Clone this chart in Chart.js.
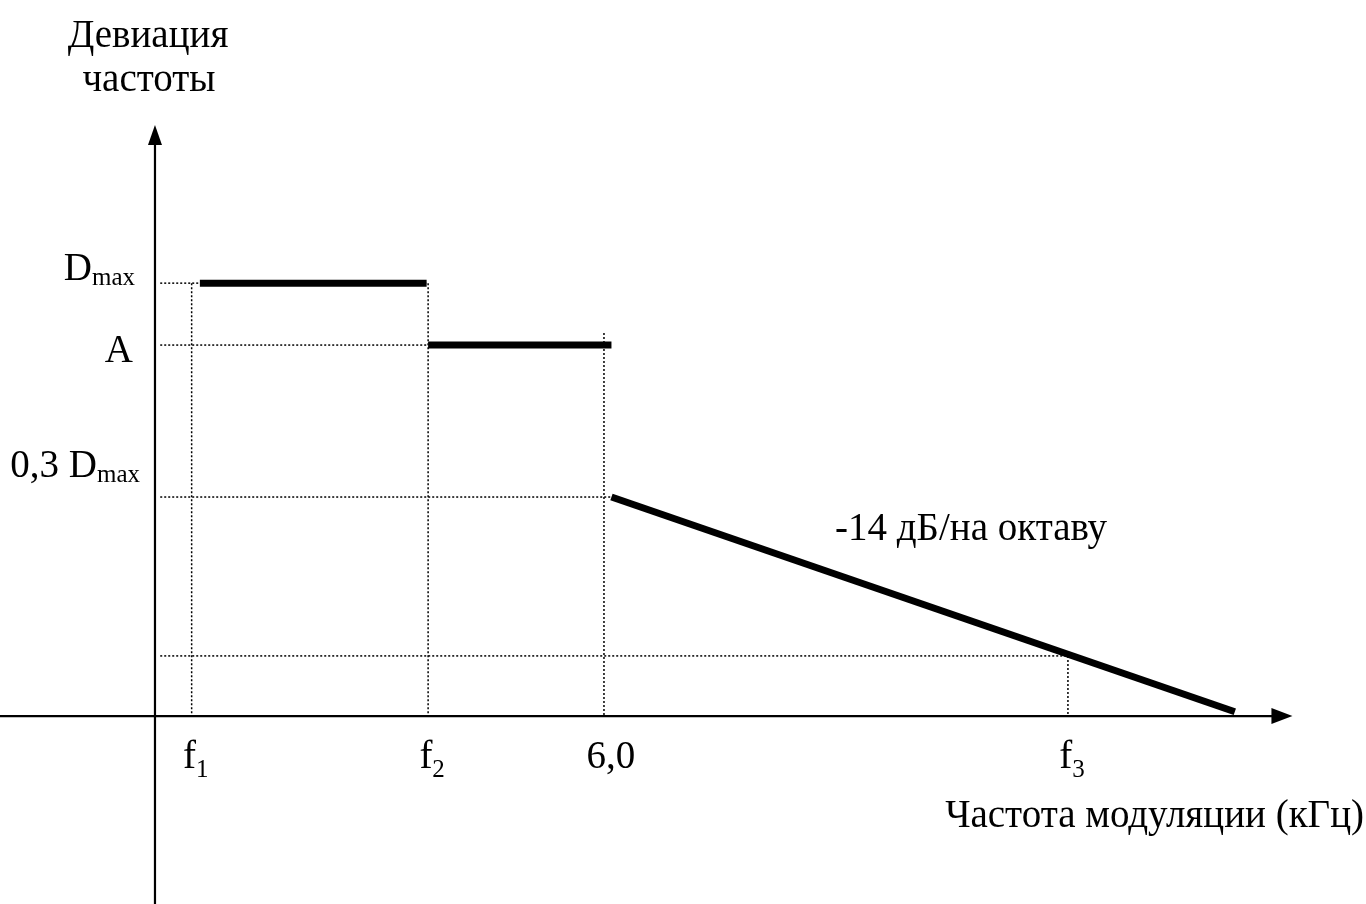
<!DOCTYPE html>
<html lang="ru">
<head>
<meta charset="utf-8">
<title>Девиация частоты</title>
<script src="https://cdn.jsdelivr.net/npm/chart.js@4"></script>
<style>
  html, body { margin: 0; padding: 0; background: #fff; }
  #wrap { width: 1366px; height: 904px; }
</style>
</head>
<body>
<div id="wrap"><canvas id="chart" width="1366" height="904"></canvas></div>
<script>
// schematic values (arbitrary units)
const xTicks = [0.49, 3.65, 6.0, 12.2];
const xTickLabels = [['f', '1'], ['f', '2'], ['6,0', ''], ['f', '3']];
const yTicks = [1.0, 0.857, 0.506, 0.139];
const yTickLabels = [['D', 'max'], ['A', ''], ['0,3 D', 'max']];

const plateauDmax = [{ x: 0.6, y: 1.0 }, { x: 3.63, y: 1.0 }];
const plateauA = [{ x: 3.65, y: 0.857 }, { x: 6.1, y: 0.857 }];
const slopePart = [{ x: 6.1, y: 0.506 }, { x: 14.43, y: 0.01 }];

const xRange = [-2.071, 16.183];
const yRange = [-0.434, 1.654];
const xArrowEnd = 15.2;
const yArrowEnd = 1.365;

const FONT = '"Liberation Serif", "Times New Roman", serif';
const SIZE = 39;
const SUB = 25;

function seg(data, width, dash) {
  return {
    data,
    borderColor: '#000',
    borderWidth: width,
    borderDash: dash || [],
    borderCapStyle: 'butt',
    pointRadius: 0,
    fill: false,
    tension: 0,
  };
}

// dotted guide lines
const guides = [
  seg([{ x: 0.07, y: yTicks[0] }, { x: xTicks[1], y: yTicks[0] }], 1.5, [2, 2]),
  seg([{ x: 0.07, y: yTicks[1] }, { x: xTicks[1], y: yTicks[1] }], 1.5, [2, 2]),
  seg([{ x: 0.07, y: yTicks[2] }, { x: 6.1, y: yTicks[2] }], 1.5, [2, 2]),
  seg([{ x: 0.07, y: yTicks[3] }, { x: xTicks[3], y: yTicks[3] }], 1.5, [2, 2]),
  seg([{ x: xTicks[0], y: yTicks[0] }, { x: xTicks[0], y: 0 }], 1.5, [2, 2]),
  seg([{ x: xTicks[1], y: yTicks[0] }, { x: xTicks[1], y: 0 }], 1.5, [2, 2]),
  seg([{ x: xTicks[2], y: 0.885 }, { x: xTicks[2], y: 0 }], 1.5, [2, 2]),
  seg([{ x: xTicks[3], y: yTicks[3] }, { x: xTicks[3], y: 0 }], 1.5, [2, 2]),
];

const axes = [
  seg([{ x: xRange[0], y: 0 }, { x: xArrowEnd - 0.2, y: 0 }], 2.2),
  seg([{ x: 0, y: yRange[0] }, { x: 0, y: yArrowEnd - 0.03 }], 2.2),
];

const curve = [
  seg(plateauDmax, 7),
  seg(plateauA, 7),
  seg(slopePart, 7),
];

function drawSub(ctx, main, sub, x, y, align, drop) {
  ctx.font = `${SIZE}px ${FONT}`;
  const wMain = ctx.measureText(main).width;
  ctx.font = `${SUB}px ${FONT}`;
  const wSub = sub ? ctx.measureText(sub).width : 0;
  let left = x;
  if (align === 'right') left = x - wMain - wSub;
  if (align === 'center') left = x - (wMain + wSub) / 2;
  ctx.textAlign = 'left';
  ctx.font = `${SIZE}px ${FONT}`;
  ctx.fillText(main, left, y);
  if (sub) {
    ctx.font = `${SUB}px ${FONT}`;
    ctx.fillText(sub, left + wMain, y + drop);
  }
}

const annotate = {
  id: 'annotate',
  afterDraw(chart) {
    const { ctx } = chart;
    const xs = chart.scales.x;
    const ys = chart.scales.y;
    const x0 = xs.getPixelForValue(0);
    const y0 = ys.getPixelForValue(0);
    ctx.save();
    ctx.fillStyle = '#000';

    // arrow heads
    const xt = xs.getPixelForValue(xArrowEnd);
    ctx.beginPath();
    ctx.moveTo(xt, y0);
    ctx.lineTo(xt - 21, y0 - 8);
    ctx.lineTo(xt - 21, y0 + 8);
    ctx.closePath();
    ctx.fill();
    const yt = ys.getPixelForValue(yArrowEnd);
    ctx.beginPath();
    ctx.moveTo(x0, yt);
    ctx.lineTo(x0 - 7, yt + 20);
    ctx.lineTo(x0 + 7, yt + 20);
    ctx.closePath();
    ctx.fill();

    ctx.textBaseline = 'alphabetic';
    // y labels
    drawSub(ctx, yTickLabels[0][0], yTickLabels[0][1], x0 - 20, ys.getPixelForValue(yTicks[0]) - 3, 'right', 5);
    drawSub(ctx, yTickLabels[1][0], yTickLabels[1][1], x0 - 22, ys.getPixelForValue(yTicks[1]) + 17, 'right', 5);
    drawSub(ctx, yTickLabels[2][0], yTickLabels[2][1], x0 - 15, ys.getPixelForValue(yTicks[2]) - 20, 'right', 5);

    // x labels
    const offs = [4, 4, 7, 4];
    xTicks.forEach((v, i) => {
      const lbl = xTickLabels[i];
      drawSub(ctx, lbl[0], lbl[1], xs.getPixelForValue(v) + offs[i], y0 + 52, 'center', 9);
    });

    ctx.font = `${SIZE}px ${FONT}`;
    ctx.textAlign = 'right';
    ctx.fillText('Частота модуляции (кГц)', 1364, y0 + 111);
    ctx.textAlign = 'left';
    ctx.fillText('-14 дБ/на октаву', 835, 540);
    ctx.textAlign = 'center';
    ctx.fillText('Девиация', 148, 47);
    ctx.fillText('частоты', 149, 91);
    ctx.restore();
  },
};

new Chart(document.getElementById('chart'), {
  type: 'line',
  data: { datasets: [...guides, ...axes, ...curve] },
  options: {
    responsive: false,
    animation: false,
    layout: { padding: 0 },
    plugins: { legend: { display: false }, tooltip: { enabled: false } },
    scales: {
      x: { type: 'linear', min: xRange[0], max: xRange[1], display: false },
      y: { type: 'linear', min: yRange[0], max: yRange[1], display: false },
    },
  },
  plugins: [annotate],
});
</script>
</body>
</html>
